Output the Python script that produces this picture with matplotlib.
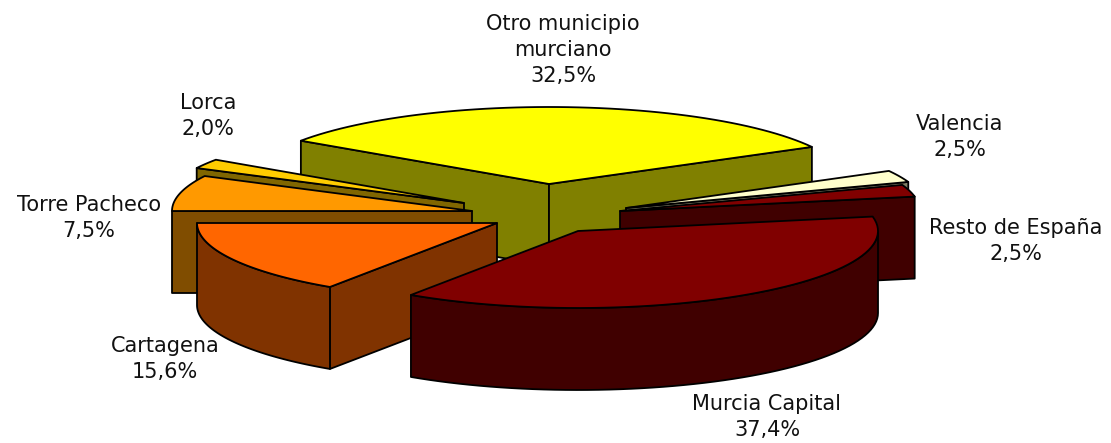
import numpy as np
import matplotlib
matplotlib.use('Agg')
import matplotlib.pyplot as plt
from matplotlib.patches import Polygon

# Data, clockwise from the Cartagena / Torre Pacheco edge
categories = ['Torre Pacheco', 'Lorca', 'Otro municipio\nmurciano', 'Valencia',
              'Resto de España', 'Murcia Capital', 'Cartagena']
values = [7.5, 2.0, 32.5, 2.5, 2.5, 37.4, 15.6]

# Colours
top_colors = ['#FF9900', '#FFCC00', '#FFFF00', '#FFFFCC', '#800000', '#800000', '#FF6600']
side_colors = ['#804D00', '#806600', '#808000', '#808066', '#400000', '#400000', '#803300']

# Layout, in pixels
rx, ry, depth = 300, 77, 82
center_x, center_y = 550, 205
explode_x = [-78, -86, -1, 76, 70, 28, -53]
explode_y = [6, -2, -21, 3, 6, 26, 18]
label_x = [89, 208, 563, 960, 1016, 767, 165]
label_y = [218, 116, 50, 137, 241, 417, 359]
draw_order = [2, 3, 4, 1, 0, 6, 5]
start_angle = 180.0

fig = plt.figure(figsize=(11.11, 4.43), dpi=100)
ax = fig.add_axes([0, 0, 1, 1])
ax.set_xlim(0, 1111)
ax.set_ylim(443, 0)
ax.axis('off')

edges = start_angle - np.cumsum([0] + values) * 3.6


def arc(cx, cy, a1, a2, n=60):
    t = np.radians(np.linspace(a1, a2, n))
    return np.column_stack([cx + rx * np.cos(t), cy - ry * np.sin(t)])


def face(pts, color, z):
    ax.add_patch(Polygon(pts, closed=True, facecolor=color, edgecolor='black',
                         linewidth=1.3, joinstyle='round', zorder=z))


for z, i in enumerate(draw_order):
    a1, a2 = edges[i], edges[i + 1]
    cx, cy = center_x + explode_x[i], center_y + explode_y[i]
    base = 10 * z
    down = np.array([0, depth])
    apex = np.array([[cx, cy]])

    # radial walls turned towards the viewer
    if np.cos(np.radians(a1)) < 0:
        p = arc(cx, cy, a1, a1, 1)
        face(np.vstack([apex, p, p + down, apex + down]), side_colors[i], base + 1)
    if np.cos(np.radians(a2)) > 0:
        p = arc(cx, cy, a2, a2, 1)
        face(np.vstack([apex, p, p + down, apex + down]), side_colors[i], base + 1)

    # outer wall, only the front half of the rim shows
    lo2, hi2 = max(a2, -180), min(a1, 0)
    if hi2 > lo2:
        rim = arc(cx, cy, hi2, lo2)
        face(np.vstack([rim, (rim + down)[::-1]]), side_colors[i], base + 2)

    # top
    face(np.vstack([apex, arc(cx, cy, a1, a2)]), top_colors[i], base + 3)

for name, v, x, y in zip(categories, values, label_x, label_y):
    label = name + '\n' + f'{v:.1f}%'.replace('.', ',')
    ax.text(x, y, label, ha='center', va='center', fontsize=15, color='#111111',
            family='DejaVu Sans', linespacing=1.36, zorder=200)

fig.savefig('out.png', dpi=100)
